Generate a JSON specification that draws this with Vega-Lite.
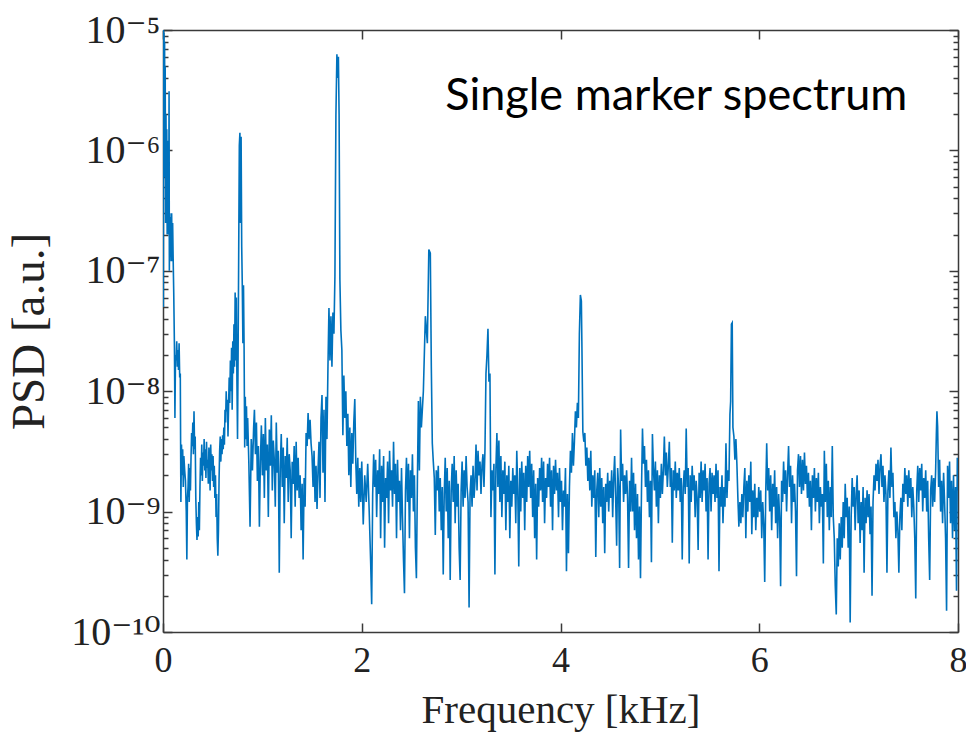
{
"$schema":"https://vega.github.io/schema/vega-lite/v6.json",
"width":795,"height":602,
"autosize":{"type":"none"},
"padding":{"left":163,"top":30,"right":8,"bottom":102},
"background":"white",
"config":{"view":{"stroke":null},
"axis":{"grid":false,"domainColor":"#3a3a3a","domainWidth":1.5,"tickColor":"#3a3a3a","tickWidth":1.5,"labelColor":"#222","titleColor":"#222","labelFont":"Liberation Serif, DejaVu Serif","titleFont":"Liberation Serif, DejaVu Serif","titleFontWeight":"normal","labelFontSize":36,"titleFontSize":41}},
"data":{"values":[
{"f":0,"p":6e-6},{"f":0.003,"p":5e-8},{"f":0.005,"p":1e-5},{"f":0.008,"p":7e-7},{"f":0.01,"p":9.5e-6},{"f":0.013,"p":1e-6},{"f":0.016,"p":8e-6},{"f":0.019,"p":6e-7},{"f":0.022,"p":5e-6},{"f":0.026,"p":2.5e-7},{"f":0.03,"p":2e-6},{"f":0.034,"p":4e-7},{"f":0.038,"p":1.5e-6},{"f":0.042,"p":2e-7},{"f":0.046,"p":1.2e-6},{"f":0.05,"p":3e-7},{"f":0.054,"p":8e-7},{"f":0.058,"p":2e-7},{"f":0.061,"p":3.1e-6},{"f":0.064,"p":1e-7},{"f":0.068,"p":3e-7},{"f":0.072,"p":1.3e-7},{"f":0.077,"p":2.8e-7},{"f":0.082,"p":1.2e-7},{"f":0.087,"p":3e-7},{"f":0.092,"p":1.2e-7},{"f":0.097,"p":2.5e-7},{"f":0.102,"p":1.3e-7},{"f":0.108,"p":6.6e-8},{"f":0.115,"p":2.4e-8},{"f":0.12,"p":6e-9},{"f":0.126,"p":2e-8},{"f":0.132,"p":1.8e-8},{"f":0.138,"p":2.6e-8},{"f":0.144,"p":1.6e-8},{"f":0.15,"p":2.2e-8},{"f":0.156,"p":1.5e-8},{"f":0.162,"p":2.5e-8},{"f":0.168,"p":1.3e-8},{"f":0.174,"p":1.4e-8},{"f":0.18,"p":1.2e-9},{"f":0.186,"p":3.6e-9},{"f":0.192,"p":2e-9},{"f":0.198,"p":3.3e-9},{"f":0.204,"p":1.6e-9},{"f":0.21,"p":2.9e-9},{"f":0.218,"p":2.2e-9},{"f":0.226,"p":1.8e-9},{"f":0.234,"p":1e-9},{"f":0.24,"p":4e-10},{"f":0.246,"p":1.3e-9},{"f":0.252,"p":1.6e-9},{"f":0.258,"p":2.5e-9},{"f":0.264,"p":1.2e-9},{"f":0.27,"p":2.3e-9},{"f":0.276,"p":1.5e-9},{"f":0.282,"p":2.8e-9},{"f":0.288,"p":4.5e-9},{"f":0.294,"p":3.5e-9},{"f":0.3,"p":5.5e-9},{"f":0.306,"p":3e-9},{"f":0.312,"p":6.8e-9},{"f":0.318,"p":3.3e-9},{"f":0.324,"p":4.2e-9},{"f":0.33,"p":1.3e-9},{"f":0.336,"p":8e-10},{"f":0.342,"p":5.8e-10},{"f":0.348,"p":9e-10},{"f":0.354,"p":6.2e-10},{"f":0.36,"p":1.2e-9},{"f":0.366,"p":7e-10},{"f":0.372,"p":1.6e-9},{"f":0.378,"p":2.8e-9},{"f":0.384,"p":2e-9},{"f":0.39,"p":3.6e-9},{"f":0.396,"p":1.8e-9},{"f":0.402,"p":3.1e-9},{"f":0.408,"p":2.4e-9},{"f":0.414,"p":4e-9},{"f":0.42,"p":2.2e-9},{"f":0.426,"p":3.3e-9},{"f":0.432,"p":1.9e-9},{"f":0.438,"p":3.8e-9},{"f":0.444,"p":2.3e-9},
{"f":0.45,"p":2.7e-9},{"f":0.456,"p":1.7e-9},{"f":0.462,"p":3.4e-9},{"f":0.468,"p":2.5e-9},{"f":0.474,"p":1.5e-9},{"f":0.48,"p":3.6e-9},{"f":0.486,"p":2.2e-9},{"f":0.492,"p":3e-9},{"f":0.498,"p":1.8e-9},{"f":0.504,"p":2.9e-9},{"f":0.51,"p":1.6e-9},{"f":0.516,"p":2.4e-9},{"f":0.522,"p":1.3e-9},{"f":0.528,"p":2e-9},{"f":0.534,"p":9e-10},{"f":0.54,"p":1.4e-9},{"f":0.546,"p":6e-10},{"f":0.552,"p":4.3e-10},{"f":0.558,"p":7e-10},{"f":0.564,"p":1.8e-9},{"f":0.57,"p":3.2e-9},{"f":0.576,"p":4.2e-9},{"f":0.582,"p":2.6e-9},{"f":0.588,"p":4e-9},{"f":0.594,"p":3e-9},{"f":0.6,"p":4.3e-9},{"f":0.606,"p":3.3e-9},{"f":0.612,"p":5e-9},{"f":0.618,"p":3.6e-9},{"f":0.624,"p":7e-9},{"f":0.63,"p":5.5e-9},{"f":0.636,"p":1e-8},{"f":0.642,"p":6.8e-9},{"f":0.648,"p":8.5e-9},{"f":0.654,"p":4.2e-9},{"f":0.66,"p":7.5e-9},{"f":0.666,"p":1.3e-8},{"f":0.672,"p":8e-9},{"f":0.678,"p":1.8e-8},{"f":0.684,"p":1e-8},{"f":0.69,"p":2.3e-8},{"f":0.696,"p":7e-9},{"f":0.702,"p":2.6e-8},{"f":0.708,"p":1.4e-8},{"f":0.714,"p":3.6e-8},{"f":0.72,"p":1.6e-8},{"f":0.726,"p":6.6e-8},{"f":0.732,"p":1.8e-8},{"f":0.738,"p":6e-8},{"f":0.744,"p":1.2e-8},{"f":0.75,"p":4e-9},{"f":0.756,"p":2.2e-8},{"f":0.762,"p":1.5e-7},{"f":0.768,"p":1.1e-6},{"f":0.774,"p":1.4e-6},{"f":0.78,"p":2.5e-7},{"f":0.786,"p":1.3e-6},{"f":0.792,"p":1.6e-7},{"f":0.798,"p":7.5e-8},{"f":0.804,"p":2.5e-8},{"f":0.81,"p":7.6e-8},{"f":0.816,"p":2.3e-8},{"f":0.822,"p":3.4e-9},{"f":0.828,"p":9e-9},{"f":0.834,"p":4e-9},{"f":0.84,"p":7.5e-9},{"f":0.846,"p":3.5e-9},
{"f":0.852,"p":6e-9},{"f":0.864,"p":2.5e-9},{"f":0.876,"p":7.5e-10},{"f":0.888,"p":4e-9},{"f":0.9,"p":2.2e-9},{"f":0.912,"p":5e-9},{"f":0.92,"p":7e-9},{"f":0.93,"p":3e-9},{"f":0.94,"p":5.5e-9},{"f":0.95,"p":1.8e-9},{"f":0.96,"p":3.5e-9},{"f":0.97,"p":7.5e-10},{"f":0.98,"p":2.6e-9},{"f":0.99,"p":5.2e-9},{"f":1.0,"p":2e-9},{"f":1.01,"p":4.4e-9},{"f":1.02,"p":1.3e-9},{"f":1.03,"p":6e-9},{"f":1.04,"p":2.2e-9},{"f":1.05,"p":3.6e-9},{"f":1.06,"p":9e-10},{"f":1.07,"p":4.8e-9},{"f":1.08,"p":2.4e-9},{"f":1.09,"p":6.3e-9},{"f":1.1,"p":1.5e-9},{"f":1.11,"p":3.9e-9},{"f":1.12,"p":2.7e-9},{"f":1.13,"p":1.1e-9},{"f":1.14,"p":5.5e-9},{"f":1.15,"p":2.1e-9},{"f":1.16,"p":3.2e-9},{"f":1.17,"p":3.1e-10},{"f":1.18,"p":2.3e-9},{"f":1.19,"p":4.4e-9},{"f":1.2,"p":1.6e-9},{"f":1.21,"p":3.4e-9},{"f":1.22,"p":8e-10},{"f":1.23,"p":2.9e-9},{"f":1.24,"p":1.9e-9},{"f":1.25,"p":4.1e-9},{"f":1.26,"p":1.2e-9},{"f":1.27,"p":3e-9},{"f":1.28,"p":2.2e-9},{"f":1.29,"p":6e-10},{"f":1.3,"p":2.6e-9},{"f":1.31,"p":1.7e-9},{"f":1.32,"p":3.5e-9},{"f":1.33,"p":1.1e-9},{"f":1.34,"p":3.8e-9},{"f":1.35,"p":1.5e-9},{"f":1.36,"p":2.8e-9},{"f":1.37,"p":1.3e-9},{"f":1.38,"p":2e-9},{"f":1.39,"p":7e-10},{"f":1.4,"p":1.7e-9},{"f":1.41,"p":4e-10},{"f":1.42,"p":1.9e-9},{"f":1.43,"p":1.1e-9},{"f":1.44,"p":4.5e-9},{"f":1.45,"p":3.5e-9},{"f":1.46,"p":6.6e-9},{"f":1.47,"p":4e-9},{"f":1.48,"p":5.8e-9},{"f":1.49,"p":3.7e-9},{"f":1.5,"p":2.9e-9},{"f":1.51,"p":1.6e-9},{"f":1.52,"p":3.2e-9},{"f":1.53,"p":1.2e-9},{"f":1.54,"p":2.4e-9},{"f":1.55,"p":1.05e-9},{"f":1.56,"p":2.2e-9},{"f":1.57,"p":3.8e-9},{"f":1.58,"p":1.3e-9},{"f":1.59,"p":6e-9},{"f":1.6,"p":9.3e-9},{"f":1.61,"p":2.1e-9},{"f":1.62,"p":7e-9},{"f":1.63,"p":1.2e-9},{"f":1.64,"p":9e-9},{"f":1.65,"p":4e-9},{"f":1.66,"p":1.6e-8},{"f":1.67,"p":4.9e-8},{"f":1.68,"p":1.8e-8},{"f":1.69,"p":4.2e-8},{"f":1.7,"p":1.6e-8},{"f":1.71,"p":4.5e-8},{"f":1.72,"p":3e-8},{"f":1.73,"p":9e-8},{"f":1.74,"p":1.95e-6},{"f":1.75,"p":6.3e-6},{"f":1.757,"p":4e-6},{"f":1.765,"p":6e-6},{"f":1.772,"p":2e-6},{"f":1.78,"p":8.5e-8},{"f":1.79,"p":3.2e-8},{"f":1.8,"p":2.2e-8},{"f":1.81,"p":4.3e-9},{"f":1.82,"p":1.35e-8},{"f":1.83,"p":6e-9},{"f":1.84,"p":1e-8},{"f":1.85,"p":3.5e-9},{"f":1.86,"p":6.5e-9},{"f":1.87,"p":2e-9},{"f":1.88,"p":5e-9},{"f":1.89,"p":1.6e-9},{"f":1.9,"p":4.5e-9},{"f":1.91,"p":2.5e-9},{"f":1.92,"p":5.5e-9},{"f":1.93,"p":8.6e-9},{"f":1.94,"p":2.6e-9},{"f":1.95,"p":1.4e-9},{"f":1.96,"p":2.8e-9},{"f":1.97,"p":1.1e-9},{"f":1.98,"p":2.3e-9},{"f":1.99,"p":1.2e-9},{"f":2.0,"p":2.6e-9},{"f":2.015,"p":7.8e-10},{"f":2.03,"p":2e-9},{"f":2.045,"p":1.2e-9},{"f":2.06,"p":2.5e-9},{"f":2.075,"p":1e-9},{"f":2.09,"p":3.7e-10},{"f":2.1,"p":1.7e-10},{"f":2.11,"p":1.4e-9},{"f":2.12,"p":3e-9},{"f":2.13,"p":1.6e-9},{"f":2.14,"p":2.7e-9},{"f":2.15,"p":9e-10},{"f":2.16,"p":2.2e-9},{"f":2.17,"p":1.4e-9},{"f":2.18,"p":3.3e-9},{"f":2.19,"p":6e-10},{"f":2.2,"p":2.4e-9},{"f":2.21,"p":1.2e-9},{"f":2.22,"p":2.9e-9},{"f":2.23,"p":5e-10},{"f":2.24,"p":1.9e-9},{"f":2.25,"p":1.3e-9},{"f":2.26,"p":2.6e-9},{"f":2.27,"p":8e-10},{"f":2.28,"p":3.2e-9},{"f":2.29,"p":1.5e-9},{"f":2.3,"p":2.2e-9},{"f":2.31,"p":1.1e-9},{"f":2.32,"p":3.8e-9},{"f":2.33,"p":1.4e-9},{"f":2.34,"p":2.5e-9},{"f":2.35,"p":6e-10},{"f":2.36,"p":2.7e-9},{"f":2.37,"p":1.2e-9},{"f":2.38,"p":1.8e-9},{"f":2.39,"p":7e-10},{"f":2.4,"p":2.3e-9},{"f":2.41,"p":9e-10},{"f":2.42,"p":4e-10},{"f":2.43,"p":2.1e-10},{"f":2.44,"p":1.5e-9},{"f":2.45,"p":2.8e-9},{"f":2.46,"p":1.2e-9},{"f":2.47,"p":2.5e-9},{"f":2.48,"p":6e-10},{"f":2.49,"p":2.2e-9},{"f":2.5,"p":1.3e-9},{"f":2.51,"p":3e-9},{"f":2.52,"p":1e-9},{"f":2.53,"p":2e-9},{"f":2.54,"p":5e-10},{"f":2.55,"p":2.8e-10},{"f":2.56,"p":1.8e-9},{"f":2.57,"p":8.3e-9},{"f":2.58,"p":2.2e-9},{"f":2.59,"p":9e-9},{"f":2.6,"p":5e-9},{"f":2.62,"p":1e-8},{"f":2.64,"p":4.2e-8},{"f":2.66,"p":2.5e-8},{"f":2.675,"p":1.5e-7},{"f":2.69,"p":1.4e-7},{"f":2.7,"p":1.6e-8},{"f":2.71,"p":3.7e-9},{"f":2.72,"p":2.6e-9},{"f":2.73,"p":1.9e-9},
{"f":2.74,"p":6.4e-10},{"f":2.75,"p":2.2e-9},{"f":2.76,"p":1.5e-9},{"f":2.77,"p":2.4e-9},{"f":2.78,"p":1e-9},{"f":2.79,"p":1.9e-9},{"f":2.8,"p":7e-10},{"f":2.81,"p":1.6e-9},{"f":2.82,"p":3e-10},{"f":2.83,"p":1.4e-9},{"f":2.84,"p":2.8e-9},{"f":2.85,"p":1e-9},{"f":2.86,"p":2.3e-9},{"f":2.87,"p":6e-10},{"f":2.88,"p":1.8e-9},{"f":2.89,"p":2.7e-10},{"f":2.9,"p":1.5e-9},{"f":2.91,"p":2.5e-9},{"f":2.92,"p":1.2e-9},{"f":2.93,"p":2.9e-9},{"f":2.94,"p":8e-10},{"f":2.95,"p":2.2e-9},{"f":2.96,"p":1.1e-9},{"f":2.97,"p":1.7e-9},{"f":2.98,"p":5e-10},{"f":2.99,"p":2.7e-10},{"f":3.0,"p":1.5e-9},{"f":3.01,"p":2.6e-9},{"f":3.02,"p":1.1e-9},{"f":3.03,"p":2.2e-9},{"f":3.04,"p":1.3e-9},{"f":3.05,"p":2.9e-9},{"f":3.06,"p":1.6e-9},{"f":3.07,"p":1.2e-9},{"f":3.08,"p":1.6e-10},{"f":3.09,"p":1.4e-9},{"f":3.1,"p":2e-9},{"f":3.11,"p":1.1e-9},{"f":3.12,"p":2.4e-9},{"f":3.13,"p":1.3e-9},{"f":3.14,"p":1.8e-9},{"f":3.15,"p":3.6e-9},{"f":3.16,"p":1.5e-9},{"f":3.17,"p":3.2e-9},{"f":3.18,"p":2e-9},{"f":3.19,"p":2.6e-9},{"f":3.2,"p":1.4e-9},{"f":3.21,"p":2.4e-9},{"f":3.22,"p":3e-9},{"f":3.23,"p":1.6e-9},{"f":3.24,"p":3.3e-9},{"f":3.25,"p":1.4e-8},{"f":3.26,"p":2e-8},{"f":3.27,"p":3.3e-8},{"f":3.28,"p":1.2e-8},{"f":3.29,"p":1.4e-8},{"f":3.3,"p":9e-10},{"f":3.31,"p":2.2e-9},{"f":3.32,"p":1.5e-9},{"f":3.33,"p":2.5e-9},{"f":3.34,"p":3e-10},{"f":3.35,"p":2.3e-9},{"f":3.36,"p":4.5e-9},{"f":3.37,"p":1.6e-9},{"f":3.38,"p":3.9e-9},{"f":3.39,"p":1.2e-9},{"f":3.4,"p":2.9e-9},{"f":3.41,"p":9e-10},{"f":3.42,"p":2.2e-9},{"f":3.43,"p":1.4e-9},{"f":3.44,"p":2.6e-9},{"f":3.45,"p":7e-10},{"f":3.46,"p":2e-9},{"f":3.47,"p":1.2e-9},{"f":3.48,"p":2.4e-9},{"f":3.49,"p":6e-10},{"f":3.5,"p":1.8e-9},{"f":3.51,"p":1.1e-9},{"f":3.52,"p":2.3e-9},{"f":3.53,"p":1.4e-9},{"f":3.54,"p":2e-9},{"f":3.55,"p":8e-10},{"f":3.56,"p":3.2e-9},{"f":3.57,"p":1.5e-9},{"f":3.58,"p":3.5e-10},{"f":3.59,"p":2.3e-9},{"f":3.6,"p":1e-9},{"f":3.61,"p":2.6e-9},{"f":3.62,"p":1.3e-9},{"f":3.63,"p":2.1e-9},{"f":3.64,"p":7e-10},{"f":3.65,"p":2.4e-9},{"f":3.66,"p":1.2e-9},{"f":3.67,"p":2.9e-9},{"f":3.68,"p":1.6e-9},{"f":3.69,"p":3.2e-9},{"f":3.7,"p":1.3e-9},{"f":3.71,"p":2.5e-9},{"f":3.72,"p":9e-10},{"f":3.73,"p":2.2e-9},{"f":3.74,"p":6e-10},{"f":3.75,"p":1.7e-9},{"f":3.76,"p":4e-10},{"f":3.77,"p":1.9e-9},{"f":3.78,"p":1.1e-9},{"f":3.79,"p":2.3e-9},{"f":3.8,"p":1.5e-9},{"f":3.81,"p":2.8e-9},{"f":3.82,"p":1.2e-9},{"f":3.83,"p":2.6e-9},{"f":3.84,"p":8e-10},{"f":3.85,"p":1.9e-9},{"f":3.86,"p":1.3e-9},{"f":3.87,"p":2.5e-9},{"f":3.88,"p":1.6e-9},{"f":3.89,"p":2.8e-9},{"f":3.9,"p":1.1e-9},{"f":3.91,"p":2.2e-9},{"f":3.92,"p":7e-10},{"f":3.93,"p":2.4e-9},{"f":3.94,"p":1.4e-9},{"f":3.95,"p":2.7e-9},{"f":3.96,"p":1.5e-9},{"f":3.97,"p":2.1e-9},{"f":3.98,"p":9e-10},{"f":3.99,"p":2.3e-9},{"f":4.0,"p":1.2e-9},{"f":4.01,"p":1.8e-9},{"f":4.02,"p":7e-10},{"f":4.03,"p":1.5e-9},{"f":4.04,"p":1.1e-9},{"f":4.05,"p":2.3e-9},{"f":4.06,"p":3.2e-10},{"f":4.07,"p":1.4e-9},{"f":4.08,"p":4.5e-10},{"f":4.09,"p":1.6e-9},
{"f":4.1,"p":3.2e-9},{"f":4.11,"p":2.1e-9},{"f":4.12,"p":4.5e-9},{"f":4.13,"p":2.4e-9},{"f":4.14,"p":3.8e-9},{"f":4.15,"p":6.8e-9},{"f":4.16,"p":5e-9},{"f":4.17,"p":8e-9},{"f":4.18,"p":6e-9},{"f":4.19,"p":3e-8},{"f":4.2,"p":6.3e-8},{"f":4.21,"p":5.6e-8},{"f":4.215,"p":2.6e-8},{"f":4.225,"p":4.6e-9},{"f":4.235,"p":3.8e-9},{"f":4.245,"p":4.5e-9},{"f":4.255,"p":2.4e-9},{"f":4.265,"p":3.4e-9},{"f":4.275,"p":1.8e-9},{"f":4.285,"p":2.8e-9},{"f":4.295,"p":1.5e-9},{"f":4.305,"p":3.2e-9},{"f":4.315,"p":1.1e-9},{"f":4.325,"p":2e-9},{"f":4.335,"p":1.3e-9},{"f":4.345,"p":2.2e-9},{"f":4.355,"p":4.2e-10},{"f":4.365,"p":1.5e-9},{"f":4.375,"p":2.1e-9},{"f":4.385,"p":9e-10},{"f":4.395,"p":2.3e-9},{"f":4.405,"p":1.1e-9},{"f":4.415,"p":1.9e-9},{"f":4.425,"p":8e-10},{"f":4.435,"p":1.6e-9},{"f":4.445,"p":4.5e-10},{"f":4.455,"p":1.7e-9},{"f":4.465,"p":1.2e-9},{"f":4.475,"p":2.1e-9},{"f":4.485,"p":1e-9},{"f":4.495,"p":1.8e-9},{"f":4.505,"p":1.3e-9},{"f":4.515,"p":2.2e-9},{"f":4.525,"p":9e-10},{"f":4.535,"p":1.9e-9},{"f":4.545,"p":2.9e-9},{"f":4.555,"p":1.3e-9},{"f":4.565,"p":5.2e-10},{"f":4.575,"p":2.3e-9},{"f":4.585,"p":1.6e-9},{"f":4.595,"p":3.4e-10},{"f":4.605,"p":4.8e-9},{"f":4.615,"p":1.8e-9},{"f":4.625,"p":2.5e-9},{"f":4.635,"p":1.2e-9},{"f":4.645,"p":2e-9},{"f":4.655,"p":1.4e-9},{"f":4.665,"p":2.2e-9},{"f":4.675,"p":1.3e-9},{"f":4.685,"p":3.4e-10},{"f":4.695,"p":1.8e-9},{"f":4.705,"p":1e-9},{"f":4.715,"p":2.8e-9},{"f":4.725,"p":1e-9},{"f":4.735,"p":2.1e-9},{"f":4.745,"p":7e-10},{"f":4.755,"p":1.7e-9},{"f":4.765,"p":6e-10},{"f":4.775,"p":1.4e-9},{"f":4.785,"p":4e-10},{"f":4.795,"p":1.1e-9},{"f":4.805,"p":2.8e-10},{"f":4.815,"p":1.5e-9},{"f":4.825,"p":4.9e-9},{"f":4.835,"p":2.5e-9},{"f":4.845,"p":3.5e-9},{"f":4.855,"p":1.6e-9},{"f":4.865,"p":2.7e-9},{"f":4.875,"p":1.2e-9},{"f":4.885,"p":2.2e-9},{"f":4.895,"p":9e-10},{"f":4.905,"p":1.8e-9},{"f":4.915,"p":3.8e-10},{"f":4.925,"p":4.4e-9},{"f":4.935,"p":2.3e-9},{"f":4.945,"p":1.5e-9},{"f":4.955,"p":2.6e-9},{"f":4.965,"p":1.1e-9},{"f":4.975,"p":2.2e-9},{"f":4.985,"p":8e-10},{"f":4.995,"p":2e-9},{"f":5.005,"p":1.3e-9},{"f":5.015,"p":2.5e-9},{"f":5.025,"p":1.4e-9},{"f":5.035,"p":2.2e-9},{"f":5.045,"p":4.2e-9},{"f":5.055,"p":2e-9},{"f":5.065,"p":3.1e-9},{"f":5.075,"p":1.6e-9},{"f":5.085,"p":2.4e-9},{"f":5.095,"p":3.8e-9},{"f":5.105,"p":1.6e-9},{"f":5.115,"p":2.3e-9},{"f":5.125,"p":5.5e-10},{"f":5.135,"p":2.2e-9},{"f":5.145,"p":1.5e-9},{"f":5.155,"p":2.6e-9},{"f":5.165,"p":1.3e-9},{"f":5.175,"p":2.1e-9},{"f":5.185,"p":1.5e-9},{"f":5.195,"p":2.3e-9},{"f":5.205,"p":1.2e-9},{"f":5.215,"p":1.9e-9},{"f":5.225,"p":4e-10},{"f":5.235,"p":1.6e-9},{"f":5.245,"p":2.2e-9},{"f":5.255,"p":1.4e-9},{"f":5.265,"p":4.9e-9},{"f":5.275,"p":1.6e-9},{"f":5.285,"p":2.3e-9},{"f":5.295,"p":3.7e-10},{"f":5.305,"p":2e-9},{"f":5.315,"p":1.2e-9},{"f":5.325,"p":2.4e-9},{"f":5.335,"p":1.5e-9},{"f":5.345,"p":2e-9},{"f":5.355,"p":9e-10},{"f":5.365,"p":1.8e-9},{"f":5.375,"p":1.3e-9},{"f":5.385,"p":4.8e-10},{"f":5.395,"p":2.1e-9},{"f":5.405,"p":1.3e-9},
{"f":5.415,"p":2.6e-9},{"f":5.425,"p":1.2e-9},{"f":5.435,"p":2.2e-9},{"f":5.445,"p":1.5e-9},{"f":5.455,"p":2.5e-9},{"f":5.465,"p":1e-9},{"f":5.475,"p":1.9e-9},{"f":5.485,"p":4e-10},{"f":5.495,"p":1.7e-9},{"f":5.505,"p":2.3e-9},{"f":5.515,"p":1e-9},{"f":5.525,"p":2.1e-9},{"f":5.535,"p":1.4e-9},{"f":5.545,"p":2e-9},{"f":5.555,"p":1.2e-9},{"f":5.565,"p":2.5e-9},{"f":5.575,"p":1.3e-9},{"f":5.585,"p":2.2e-9},{"f":5.595,"p":3.2e-10},{"f":5.605,"p":1.6e-9},{"f":5.615,"p":1.1e-9},{"f":5.625,"p":2e-9},{"f":5.635,"p":8e-10},{"f":5.645,"p":1.6e-9},{"f":5.655,"p":1.1e-9},{"f":5.665,"p":3.7e-9},{"f":5.675,"p":1.3e-9},{"f":5.685,"p":2.2e-9},{"f":5.695,"p":1.8e-9},{"f":5.705,"p":6.4e-9},{"f":5.712,"p":8.2e-9},{"f":5.72,"p":3.6e-8},{"f":5.728,"p":3.7e-8},{"f":5.735,"p":5e-9},{"f":5.745,"p":4.2e-9},{"f":5.755,"p":2.7e-9},{"f":5.765,"p":4e-9},{"f":5.775,"p":2.5e-9},{"f":5.785,"p":1.3e-9},{"f":5.795,"p":7.5e-10},{"f":5.805,"p":1.2e-9},{"f":5.815,"p":8e-10},{"f":5.825,"p":1.4e-9},{"f":5.835,"p":9e-10},{"f":5.845,"p":1.6e-9},{"f":5.855,"p":2.3e-9},{"f":5.865,"p":6e-10},{"f":5.875,"p":1.8e-9},{"f":5.885,"p":1e-9},{"f":5.895,"p":2e-9},{"f":5.905,"p":1.2e-9},{"f":5.915,"p":2.6e-9},{"f":5.925,"p":6.5e-10},{"f":5.935,"p":1.5e-9},{"f":5.945,"p":9e-10},{"f":5.955,"p":1.7e-9},{"f":5.965,"p":7e-10},{"f":5.975,"p":1.3e-9},{"f":5.985,"p":9e-10},{"f":5.995,"p":1.6e-9},{"f":6.005,"p":1e-9},{"f":6.015,"p":1.5e-9},{"f":6.025,"p":6e-10},{"f":6.035,"p":1.2e-9},{"f":6.045,"p":8e-10},{"f":6.055,"p":2.6e-10},{"f":6.065,"p":1.4e-9},{"f":6.075,"p":3.7e-9},{"f":6.085,"p":1.5e-9},{"f":6.095,"p":2.3e-9},{"f":6.105,"p":1e-9},{"f":6.115,"p":2e-9},{"f":6.125,"p":7e-10},{"f":6.135,"p":1.7e-9},{"f":6.145,"p":1.1e-9},{"f":6.155,"p":2.2e-9},{"f":6.165,"p":8e-10},{"f":6.175,"p":1.6e-9},{"f":6.185,"p":6e-10},{"f":6.195,"p":1.4e-9},{"f":6.205,"p":9e-10},{"f":6.215,"p":2.4e-10},{"f":6.225,"p":1.8e-9},{"f":6.235,"p":1.2e-9},{"f":6.245,"p":2.6e-9},{"f":6.255,"p":1.4e-9},{"f":6.265,"p":2.2e-9},{"f":6.275,"p":1e-9},{"f":6.285,"p":2e-9},{"f":6.295,"p":3.5e-9},{"f":6.305,"p":1.6e-9},{"f":6.315,"p":2.4e-9},{"f":6.325,"p":8e-10},{"f":6.335,"p":2e-9},{"f":6.345,"p":1.2e-9},{"f":6.355,"p":1.7e-9},{"f":6.365,"p":1e-9},{"f":6.375,"p":2.9e-10},{"f":6.385,"p":2.2e-9},{"f":6.395,"p":3e-9},{"f":6.405,"p":1.6e-9},{"f":6.415,"p":2.9e-9},{"f":6.425,"p":1.4e-9},{"f":6.435,"p":2.7e-9},{"f":6.445,"p":1.5e-9},{"f":6.455,"p":3.1e-9},{"f":6.465,"p":1.7e-9},{"f":6.475,"p":2.4e-9},{"f":6.485,"p":1.3e-9},{"f":6.495,"p":2.1e-9},{"f":6.505,"p":1.1e-9},{"f":6.515,"p":1.8e-9},{"f":6.525,"p":7e-10},{"f":6.535,"p":2e-9},{"f":6.545,"p":1.3e-9},{"f":6.555,"p":2.3e-9},{"f":6.565,"p":1e-9},{"f":6.575,"p":1.9e-9},{"f":6.585,"p":1.2e-9},{"f":6.595,"p":2.1e-9},{"f":6.605,"p":8e-10},{"f":6.615,"p":1.6e-9},{"f":6.625,"p":1.1e-9},{"f":6.635,"p":1.4e-9},{"f":6.645,"p":3.7e-10},{"f":6.655,"p":3.2e-9},{"f":6.665,"p":1.2e-9},{"f":6.675,"p":2.5e-9},{"f":6.685,"p":9e-10},{"f":6.695,"p":1.8e-9},{"f":6.705,"p":7e-10},{"f":6.715,"p":1.6e-9},
{"f":6.725,"p":9e-10},{"f":6.735,"p":3.5e-9},{"f":6.745,"p":9e-10},{"f":6.755,"p":6e-10},{"f":6.765,"p":2.4e-10},{"f":6.775,"p":1.4e-10},{"f":6.785,"p":6e-10},{"f":6.795,"p":3.5e-10},{"f":6.805,"p":8e-10},{"f":6.815,"p":4e-10},{"f":6.825,"p":9e-10},{"f":6.835,"p":5e-10},{"f":6.845,"p":1.2e-9},{"f":6.855,"p":6e-10},{"f":6.865,"p":1.7e-9},{"f":6.875,"p":9e-10},{"f":6.885,"p":1.3e-9},{"f":6.895,"p":5e-10},{"f":6.905,"p":1.1e-9},{"f":6.915,"p":1.2e-10},{"f":6.925,"p":9e-10},{"f":6.935,"p":1.9e-9},{"f":6.945,"p":1.1e-9},{"f":6.955,"p":1.6e-9},{"f":6.965,"p":7e-10},{"f":6.975,"p":1.4e-9},{"f":6.985,"p":2e-9},{"f":6.995,"p":8e-10},{"f":7.005,"p":1.5e-9},{"f":7.015,"p":5.5e-10},{"f":7.025,"p":1.2e-9},{"f":7.035,"p":7e-10},{"f":7.045,"p":1.6e-9},{"f":7.055,"p":3.1e-10},{"f":7.065,"p":1.3e-9},{"f":7.075,"p":8e-10},{"f":7.085,"p":1.5e-9},{"f":7.095,"p":9e-10},{"f":7.105,"p":1.4e-9},{"f":7.115,"p":6.5e-10},{"f":7.125,"p":1.1e-9},{"f":7.135,"p":2e-10},{"f":7.145,"p":1.2e-9},{"f":7.155,"p":2e-9},{"f":7.165,"p":1.5e-9},{"f":7.175,"p":2.5e-9},{"f":7.185,"p":1.8e-9},{"f":7.195,"p":2.7e-9},{"f":7.205,"p":1.4e-9},{"f":7.215,"p":2.4e-9},{"f":7.225,"p":3e-9},{"f":7.235,"p":1.6e-9},{"f":7.245,"p":2.4e-9},{"f":7.255,"p":1.2e-9},{"f":7.265,"p":2e-9},{"f":7.275,"p":1.4e-9},{"f":7.285,"p":3.1e-10},{"f":7.295,"p":1.5e-9},{"f":7.305,"p":2.2e-9},{"f":7.315,"p":1.3e-9},{"f":7.325,"p":3.4e-9},{"f":7.335,"p":1.6e-9},{"f":7.345,"p":2.1e-9},{"f":7.355,"p":9e-10},{"f":7.365,"p":1.2e-9},{"f":7.375,"p":6e-10},{"f":7.385,"p":1e-9},{"f":7.395,"p":7e-10},{"f":7.405,"p":3.1e-10},{"f":7.415,"p":9e-10},{"f":7.425,"p":1.3e-9},{"f":7.435,"p":7e-10},{"f":7.445,"p":1.7e-9},{"f":7.455,"p":1.2e-9},{"f":7.465,"p":2.3e-9},{"f":7.475,"p":1.4e-9},{"f":7.485,"p":2e-9},{"f":7.495,"p":1.1e-9},{"f":7.505,"p":2.2e-9},{"f":7.515,"p":1.3e-9},{"f":7.525,"p":1.9e-9},{"f":7.535,"p":9e-10},{"f":7.545,"p":1.6e-9},{"f":7.555,"p":1.1e-9},{"f":7.565,"p":6e-10},{"f":7.575,"p":1.9e-10},{"f":7.585,"p":1.5e-9},{"f":7.595,"p":2.4e-9},{"f":7.605,"p":1.2e-9},{"f":7.615,"p":2.3e-9},{"f":7.625,"p":1.5e-9},{"f":7.635,"p":2.5e-9},{"f":7.645,"p":1e-9},{"f":7.655,"p":1.9e-9},{"f":7.665,"p":1.3e-9},{"f":7.675,"p":2.2e-9},{"f":7.685,"p":1e-9},{"f":7.695,"p":1.8e-9},{"f":7.705,"p":6e-10},{"f":7.715,"p":2.7e-10},{"f":7.725,"p":1.5e-9},{"f":7.735,"p":2e-9},{"f":7.745,"p":1.1e-9},{"f":7.755,"p":1.9e-9},{"f":7.765,"p":1.2e-9},{"f":7.775,"p":2.2e-9},{"f":7.782,"p":4.3e-9},{"f":7.788,"p":6.8e-9},{"f":7.795,"p":5.1e-9},{"f":7.805,"p":1.6e-9},{"f":7.815,"p":2.7e-9},{"f":7.825,"p":1e-9},{"f":7.835,"p":1.8e-9},{"f":7.845,"p":8e-10},{"f":7.855,"p":2.1e-9},{"f":7.865,"p":1.2e-9},{"f":7.875,"p":6e-10},{"f":7.885,"p":1.5e-10},{"f":7.895,"p":2.4e-9},{"f":7.905,"p":1.3e-9},{"f":7.915,"p":2.6e-9},{"f":7.925,"p":8e-10},{"f":7.935,"p":1.8e-9},{"f":7.945,"p":6e-10},{"f":7.955,"p":2e-9},{"f":7.965,"p":7e-10},{"f":7.975,"p":1.6e-9},{"f":7.985,"p":2.2e-10},{"f":7.993,"p":2.8e-9},{"f":8.0,"p":1.5e-9}
]},
"resolve":{"scale":{"x":"shared","y":"shared"},"axis":{"x":"independent","y":"independent"}},
"layer":[
{"mark":{"type":"line","color":"#0072BD","strokeWidth":1.6,"clip":true},
"encoding":{
"x":{"field":"f","type":"quantitative","scale":{"domain":[0,8],"nice":false,"zero":false},
"axis":{"orient":"bottom","values":[0,2,4,6,8],"format":"d","tickSize":-9,"labelPadding":20,"labelFlush":false,"title":"Frequency [kHz]","titlePadding":12}},
"y":{"field":"p","type":"quantitative","scale":{"type":"log","domain":[1e-10,1e-5],"nice":false},
"axis":{"orient":"left","values":[1e-10,1e-9,1e-8,1e-7,1e-6,1e-5],"labelExpr":"['10⁻¹⁰','10⁻⁹','10⁻⁸','10⁻⁷','10⁻⁶','10⁻⁵'][round(log(datum.value)/LN10)+10]","labelFontSize":40,"tickSize":-9,"labelPadding":12,"title":"PSD [a.u.]","titleFontSize":47,"titlePadding":17}}}},
{"data":{"values":[{"f":0,"p":1e-10}]},
"mark":{"type":"point","opacity":0},
"encoding":{
"x":{"field":"f","type":"quantitative","axis":{"orient":"top","values":[0,2,4,6,8],"tickSize":-9,"labels":false,"title":null}},
"y":{"field":"p","type":"quantitative","axis":{"orient":"right","values":[1e-10,1e-9,1e-8,1e-7,1e-6,1e-5],"tickSize":-9,"labels":false,"title":null}}}},
{"data":{"values":[{"f":0,"p":1e-10}]},
"mark":{"type":"point","opacity":0},
"encoding":{
"x":{"field":"f","type":"quantitative","axis":null},
"y":{"field":"p","type":"quantitative","axis":{"orient":"left","domain":false,"values":[2e-10,3e-10,4e-10,5e-10,6e-10,7e-10,8e-10,9e-10,2e-9,3e-9,4e-9,5e-9,6e-9,7e-9,8e-9,9e-9,2e-8,3e-8,4e-8,5e-8,6e-8,7e-8,8e-8,9e-8,2e-7,3e-7,4e-7,5e-7,6e-7,7e-7,8e-7,9e-7,2e-6,3e-6,4e-6,5e-6,6e-6,7e-6,8e-6,9e-6],"tickSize":-5,"labels":false,"title":null}}}},
{"data":{"values":[{"f":0,"p":1e-10}]},
"mark":{"type":"point","opacity":0},
"encoding":{
"x":{"field":"f","type":"quantitative","axis":null},
"y":{"field":"p","type":"quantitative","axis":{"orient":"right","domain":false,"values":[2e-10,3e-10,4e-10,5e-10,6e-10,7e-10,8e-10,9e-10,2e-9,3e-9,4e-9,5e-9,6e-9,7e-9,8e-9,9e-9,2e-8,3e-8,4e-8,5e-8,6e-8,7e-8,8e-8,9e-8,2e-7,3e-7,4e-7,5e-7,6e-7,7e-7,8e-7,9e-7,2e-6,3e-6,4e-6,5e-6,6e-6,7e-6,8e-6,9e-6],"tickSize":-5,"labels":false,"title":null}}}},
{"data":{"values":[{"label":"Single marker spectrum","f":2.84,"p":2.17e-6}]},
"mark":{"type":"text","font":"Lato","fontSize":45,"align":"left","baseline":"alphabetic","color":"#000"},
"encoding":{"x":{"field":"f","type":"quantitative","axis":null},"y":{"field":"p","type":"quantitative","axis":null},"text":{"field":"label"}}}
]
}
